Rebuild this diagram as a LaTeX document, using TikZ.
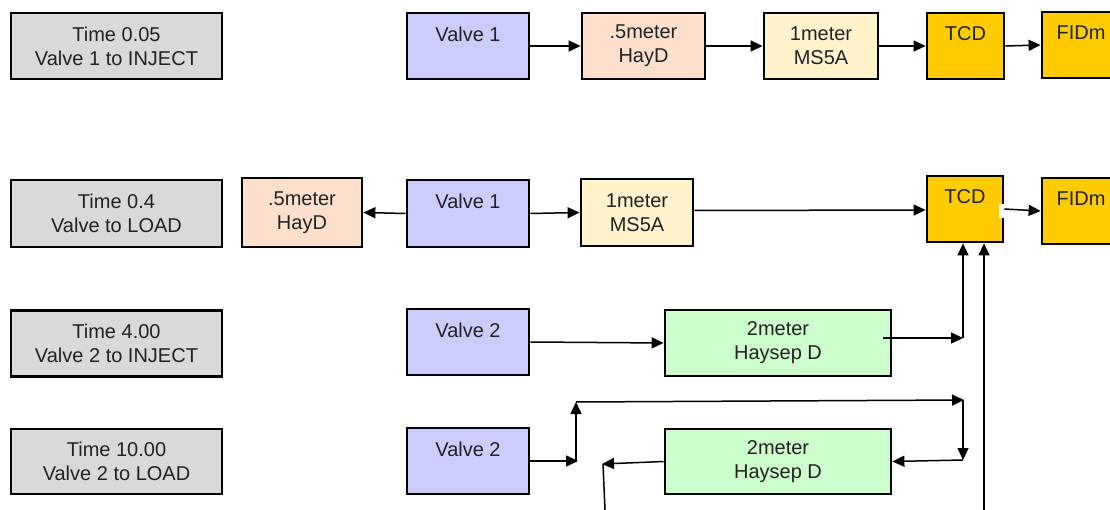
\documentclass[tikz,border=0pt]{standalone}
\usepackage{fontspec}
\setmainfont{Liberation Sans}
\usetikzlibrary{arrows.meta}
\definecolor{timegray}{HTML}{D9D9D9}
\definecolor{valveblue}{HTML}{CCCCFF}
\definecolor{haypeach}{HTML}{FDE0CC}
\definecolor{msyellow}{HTML}{FFF3CC}
\definecolor{detgold}{HTML}{FFCC00}
\definecolor{sepgreen}{HTML}{CCFFCC}
\definecolor{txt}{HTML}{222222}
\begin{document}
\begin{tikzpicture}[x=1pt,y=-1pt,
  box/.style={draw=black, line width=2.8pt, inner sep=0pt, align=center,
    font=\fontsize{20}{24}\selectfont, text=txt},
  arr/.style={line width=1.5pt, -{Triangle[length=12pt,width=11pt]}},
  ln/.style={line width=1.5pt}]
\useasboundingbox[fill=white] (0,0) rectangle (1110,510);

% Row 1
\node[box, fill=timegray, minimum width=211pt, minimum height=66pt] (t1) at (116.5,46) {Time 0.05\\Valve 1 to INJECT};
\node[box, fill=valveblue, minimum width=122pt, minimum height=66pt] (v1a) at (468,46) {Valve 1\\~};
\node[box, fill=haypeach, minimum width=123pt, minimum height=66pt] (h1a) at (643.5,46) {.5meter\\HayD};
\node[box, fill=msyellow, minimum width=114pt, minimum height=66pt] (m1a) at (821,46) {1meter\\MS5A};
\node[box, fill=detgold, minimum width=77pt, minimum height=66pt] (tcd1) at (965.5,46) {TCD\\~};
\node[box, fill=detgold, minimum width=78pt, minimum height=66pt] (fid1) at (1081,45) {FIDm\\~};

\draw[arr] (v1a.east) -- (h1a.west);
\draw[arr] (h1a.east) -- (m1a.west);
\draw[arr] (m1a.east) -- (tcd1.west);
\draw[arr] (tcd1.east) -- (fid1.west);

% Row 2
\node[box, fill=timegray, minimum width=211pt, minimum height=67pt] (t2) at (116.5,213.5) {Time 0.4\\Valve to LOAD};
\node[box, fill=haypeach, minimum width=120pt, minimum height=69pt] (h2) at (302,212.5) {.5meter\\HayD};
\node[box, fill=valveblue, minimum width=122pt, minimum height=67pt] (v1b) at (468,213.5) {Valve 1\\~};
\node[box, fill=msyellow, minimum width=112pt, minimum height=67pt] (m2) at (637,212.5) {1meter\\MS5A};
\node[box, fill=detgold, minimum width=76pt, minimum height=66pt] (tcd2) at (965,209) {TCD\\~};
\node[box, fill=detgold, minimum width=78pt, minimum height=66pt] (fid2) at (1081,211) {FIDm\\~};

\draw[arr] (v1b.west) -- (h2.east);
\draw[arr] (v1b.east) -- (m2.west);
\draw[arr] ([yshift=2pt]m2.east) -- ([yshift=-1pt]tcd2.west);
\fill[white] (998.5,204) rectangle (1006,218);
\draw[arr] (tcd2.east) -- (fid2.west);

% Row 3
\node[box, fill=timegray, minimum width=211pt, minimum height=66pt] (t3) at (116.5,343.5) {Time 4.00\\Valve 2 to INJECT};
\node[box, fill=valveblue, minimum width=122pt, minimum height=66pt] (v2a) at (468,342) {Valve 2\\~};
\node[box, fill=sepgreen, minimum width=226pt, minimum height=66pt] (hs3) at (778,343) {2meter\\Haysep D};

\coordinate (j1) at (963,338);
\coordinate (s1) at (883,338);
\draw[arr] (v2a.east) -- (hs3.west);
\draw[arr] (s1) -- (j1);
\draw[arr] (j1) -- (j1 |- tcd2.south);

\coordinate (b2) at (984,510);
\draw[arr] (b2) -- (b2 |- tcd2.south);

% Row 4
\node[box, fill=timegray, minimum width=211pt, minimum height=65pt] (t4) at (116.5,461.5) {Time 10.00\\Valve 2 to LOAD};
\node[box, fill=valveblue, minimum width=122pt, minimum height=66pt] (v2b) at (468,461) {Valve 2\\~};
\node[box, fill=sepgreen, minimum width=226pt, minimum height=65pt] (hs4) at (778,461.5) {2meter\\Haysep D};

\coordinate (j2) at (578,461);
\coordinate (j3) at (576,402);
\coordinate (j4) at (964,400);
\coordinate (j5) at (963,460);
\coordinate (j6) at (602,464);
\coordinate (j7) at (605,510);
\draw[arr] (v2b.east) -- (j2);
\draw[arr] (576,461) -- (j3);
\draw[arr] (j3) -- (j4);
\draw[arr] (963,400) -- (j5);
\draw[arr] (j5) -- (hs4.east);
\draw[arr] (hs4.west) -- (j6);
\draw[ln] (603,464) -- (j7);
\end{tikzpicture}
\end{document}
